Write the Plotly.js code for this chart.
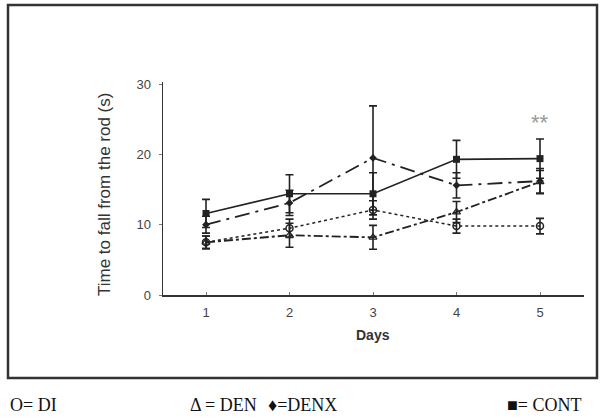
<!DOCTYPE html>
<html>
<head>
<meta charset="utf-8">
<script src="https://cdn.plot.ly/plotly-3.0.1.min.js"></script>
<style>html,body{margin:0;padding:0;background:#fff;}#chart{width:605px;height:420px;}</style>
</head>
<body>
<div id="chart"></div>
<script>
const days = [1, 2, 3, 4, 5];
const contMean = [11.6, 14.4, 14.4, 19.3, 19.4];
const contErr  = [2.0, 2.7, 3.0, 2.7, 2.8];
const denxMean = [10.0, 13.1, 19.5, 15.6, 16.2];
const denxErr  = [1.2, 1.8, 7.4, 1.8, 1.8];
const denMean  = [7.5, 8.5, 8.2, 11.8, 16.1];
const denErr   = [0.9, 1.7, 1.7, 1.5, 1.6];
const diMean   = [7.5, 9.5, 12.1, 9.8, 9.8];
const diErr    = [0.9, 1.3, 1.3, 1.0, 1.1];
const yTicks = [0, 10, 20, 30];
const legendTexts = ["O= DI", "\u0394 = DEN", "\u2666=DENX", "\u25A0= CONT"];

const ink = '#222';
function errBar(arr) {
  return {type: 'data', array: arr, visible: true, color: ink, thickness: 1.6, width: 4};
}
const traces = [
  {x: days, y: diMean, name: 'DI', mode: 'lines+markers', error_y: errBar(diErr),
   line: {color: ink, width: 1.5, dash: 'dot'},
   marker: {symbol: 'circle-open', size: 7, color: ink, line: {width: 1.5, color: ink}}},
  {x: days, y: denMean, name: 'DEN', mode: 'lines+markers', error_y: errBar(denErr),
   line: {color: ink, width: 1.8, dash: 'dashdot'},
   marker: {symbol: 'triangle-up-open', size: 7, color: ink, line: {width: 1.2, color: ink}}},
  {x: days, y: denxMean, name: 'DENX', mode: 'lines+markers', error_y: errBar(denxErr),
   line: {color: ink, width: 1.8, dash: 'longdashdot'},
   marker: {symbol: 'diamond', size: 6, color: ink}},
  {x: days, y: contMean, name: 'CONT', mode: 'lines+markers', error_y: errBar(contErr),
   line: {color: ink, width: 1.6, dash: 'solid'},
   marker: {symbol: 'square', size: 7, color: ink}}
];

// plot area: x 163..584, y 82..295 (pixels)
const L = 163, R = 21, T = 82, B = 125, W = 421, H = 213;
function px(x) { return (x - L) / W; }
function py(y) { return (295 - y) / H; }

const legendX = [8, 188, 266, 505];
const annotations = legendTexts.map((t, i) => ({
  text: t, xref: 'paper', yref: 'paper', x: px(legendX[i]), y: py(405),
  xanchor: 'left', yanchor: 'middle', showarrow: false,
  font: {family: 'Liberation Serif, Times New Roman, serif', size: 18, color: '#111'}
}));
annotations.push({
  text: '**', xref: 'x', yref: 'y', x: 5, y: 24.6, showarrow: false,
  font: {family: 'Liberation Sans, Arial, sans-serif', size: 22, color: '#999'}
});
annotations.push({
  text: 'Time to fall from the rod (s)', xref: 'paper', yref: 'paper',
  x: px(104), y: py(195), textangle: -90, showarrow: false,
  xanchor: 'center', yanchor: 'middle',
  font: {family: 'Liberation Sans, Arial, sans-serif', size: 17, color: '#333'}
});
annotations.push({
  text: '<b>Days</b>', xref: 'paper', yref: 'paper',
  x: px(373), y: py(335), showarrow: false,
  xanchor: 'center', yanchor: 'middle',
  font: {family: 'Liberation Sans, Arial, sans-serif', size: 14, color: '#333'}
});

const layout = {
  width: 605, height: 420,
  margin: {l: L, r: R, t: T, b: B},
  paper_bgcolor: '#fff', plot_bgcolor: '#fff',
  showlegend: false,
  font: {family: 'Liberation Sans, Arial, sans-serif', color: '#444'},
  xaxis: {
    range: [0.485, 5.527], tickvals: days, ticktext: days.map(String),
    showline: true, linecolor: '#333', linewidth: 1.5, showgrid: false, zeroline: false,
    ticks: 'inside', ticklen: 3, tickcolor: '#777',
    ticklabelstandoff: 5,
    tickfont: {size: 13, color: '#444'}
  },
  yaxis: {
    range: [0, 30.3], tickvals: yTicks,
    showline: true, linecolor: '#333', linewidth: 1.5, showgrid: false, zeroline: false,
    ticks: 'outside', ticklen: 3, tickcolor: '#777',
    ticklabelstandoff: 5,
    tickfont: {size: 13, color: '#444'}
  },
  shapes: [{
    type: 'rect', xref: 'paper', yref: 'paper',
    x0: px(8), x1: px(597), y0: py(378), y1: py(5),
    line: {color: '#333', width: 2.5}
  }],
  annotations: annotations
};

Plotly.newPlot('chart', traces, layout, {displayModeBar: false, staticPlot: true});
</script>
</body>
</html>
